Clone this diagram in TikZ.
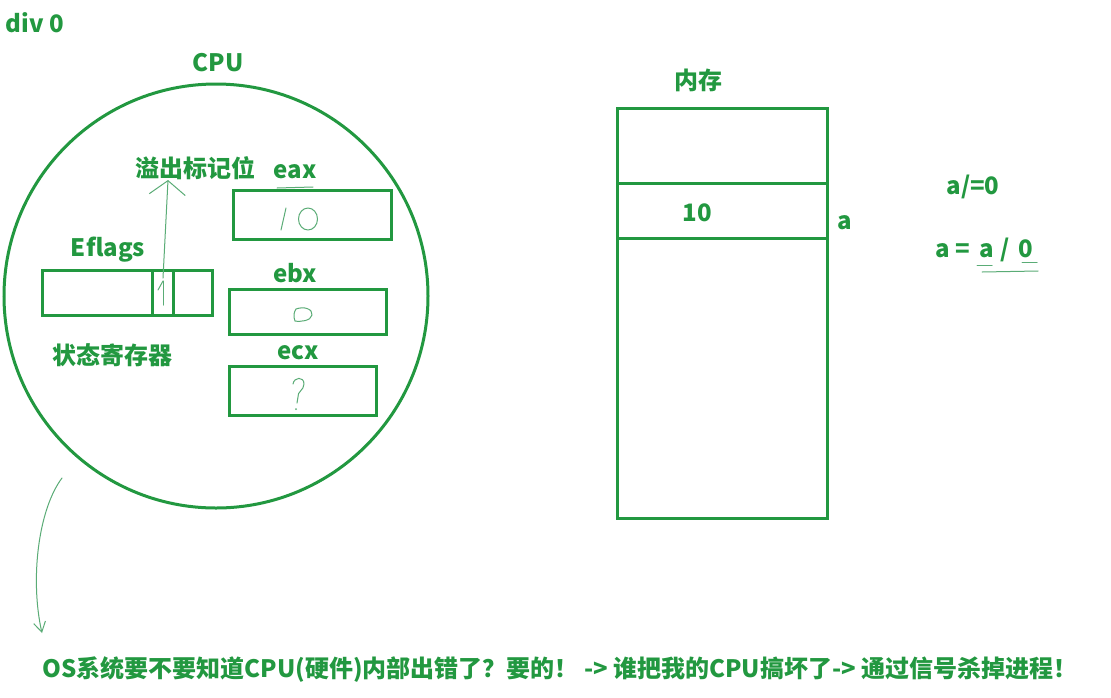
\documentclass[tikz,border=0pt]{standalone}
\usepackage{fontspec}
\setmainfont{Noto Sans CJK SC}
\usetikzlibrary{arrows.meta}
\definecolor{pen}{RGB}{34,152,64}
\definecolor{thinpen}{RGB}{90,172,118}
\begin{document}
\begin{tikzpicture}[x=1pt,y=-1pt,
  lbl/.style={text=pen,font=\bfseries\fontsize{24}{28}\selectfont,inner sep=0pt},
  box/.style={draw=pen,line width=3pt,inner sep=0pt},
  hand/.style={draw=thinpen,line width=1pt,line cap=round,line join=round}]
\fill[white] (0,0) rectangle (1111,697);
\useasboundingbox (0,0) rectangle (1111,697);

% titles
\node[lbl] (div) at (35,23) {div 0};
\node[lbl] (cpulbl) at (218,63) {CPU};
\node[draw=pen,line width=3pt,circle,minimum size=424pt,inner sep=0pt] (cpu) at (216,296) {};

% Eflags
\node[lbl] (eflagslbl) at (108,250) {Eflags};
\node[box,minimum width=170pt,minimum height=45pt] (eflags) at (127,292.5) {};
\draw[pen,line width=3pt] (152,270) -- (152,315);
\draw[pen,line width=3pt] (173,270) -- (173,315);
\coordinate (bit) at (163,278);
\draw[hand] (163,281) -- (163,305);
\draw[hand] (163,281) -- (158,290);
\node[lbl] (status) at (112,355) {状态寄存器};

% overflow flag
\node[lbl] (ovf) at (195,168) {溢出标记位};
\coordinate (ovftip) at (168,180);
\draw[hand,-{Straight Barb[length=14pt,width=36pt,line width=1pt]}] (bit) -- (ovftip);

% registers
\node[lbl] (eaxlbl) at (295,172) {eax};
\draw[hand] (277,188) -- (313,187);
\node[box,minimum width=158pt,minimum height=49pt] (eax) at (312,214.5) {};
\draw[hand] (281,230) -- (286,208);
\draw[hand] (308,219) ellipse [x radius=9.5, y radius=11];

\node[lbl] (ebxlbl) at (295,273) {ebx};
\node[box,minimum width=157pt,minimum height=45pt] (ebx) at (307.5,311.5) {};
\draw[hand] (296,309) .. controls (304,306) and (313,309) .. (312,315) .. controls (311,321) and (300,322) .. (295,321) .. controls (293,316) and (294,312) .. (296,309);

\node[lbl] (ecxlbl) at (298,353) {ecx};
\node[box,minimum width=147pt,minimum height=49pt] (ecx) at (302.5,390.5) {};
\draw[hand] (293,384) .. controls (294,377) and (304,376) .. (304,384) .. controls (304,390) and (297,392) .. (298,397) -- (297,403);
\fill[thinpen] (296,409) circle (1pt);

% memory
\node[lbl] (memlbl) at (698,80) {内存};
\node[box,minimum width=210pt,minimum height=410pt] (mem) at (722,313) {};
\draw[pen,line width=3pt] (617,183) -- (827,183);
\draw[pen,line width=3pt] (617,238) -- (827,238);
\node[lbl] (ten) at (697,213) {10};
\node[lbl] (avar) at (845,223) {a};

% expressions
\node[lbl] (expr1) at (973,187) {a/=0};
\node[lbl] (expr2) at (984,250) {a = \hspace{4pt}a \hspace{1pt}/\hspace{3pt} 0};
\draw[hand] (977,265) -- (992,265);
\draw[hand] (1022,262) -- (1037,262);
\draw[hand] (982,272) -- (1038,271);

% curved arrow to OS text
\coordinate (cstart) at (62,478);
\coordinate (cend) at (42,633);
\draw[hand,-{Straight Barb[length=10pt,width=12pt,line width=1pt]}] (cstart) .. controls (38,510) and (30,580) .. (cend);

% bottom text
\node[lbl] (os) at (560,670) {OS系统要不要知道CPU(硬件)内部出错了？要的！ -> 谁把我的CPU搞坏了-> 通过信号杀掉进程！};
\end{tikzpicture}
\end{document}
